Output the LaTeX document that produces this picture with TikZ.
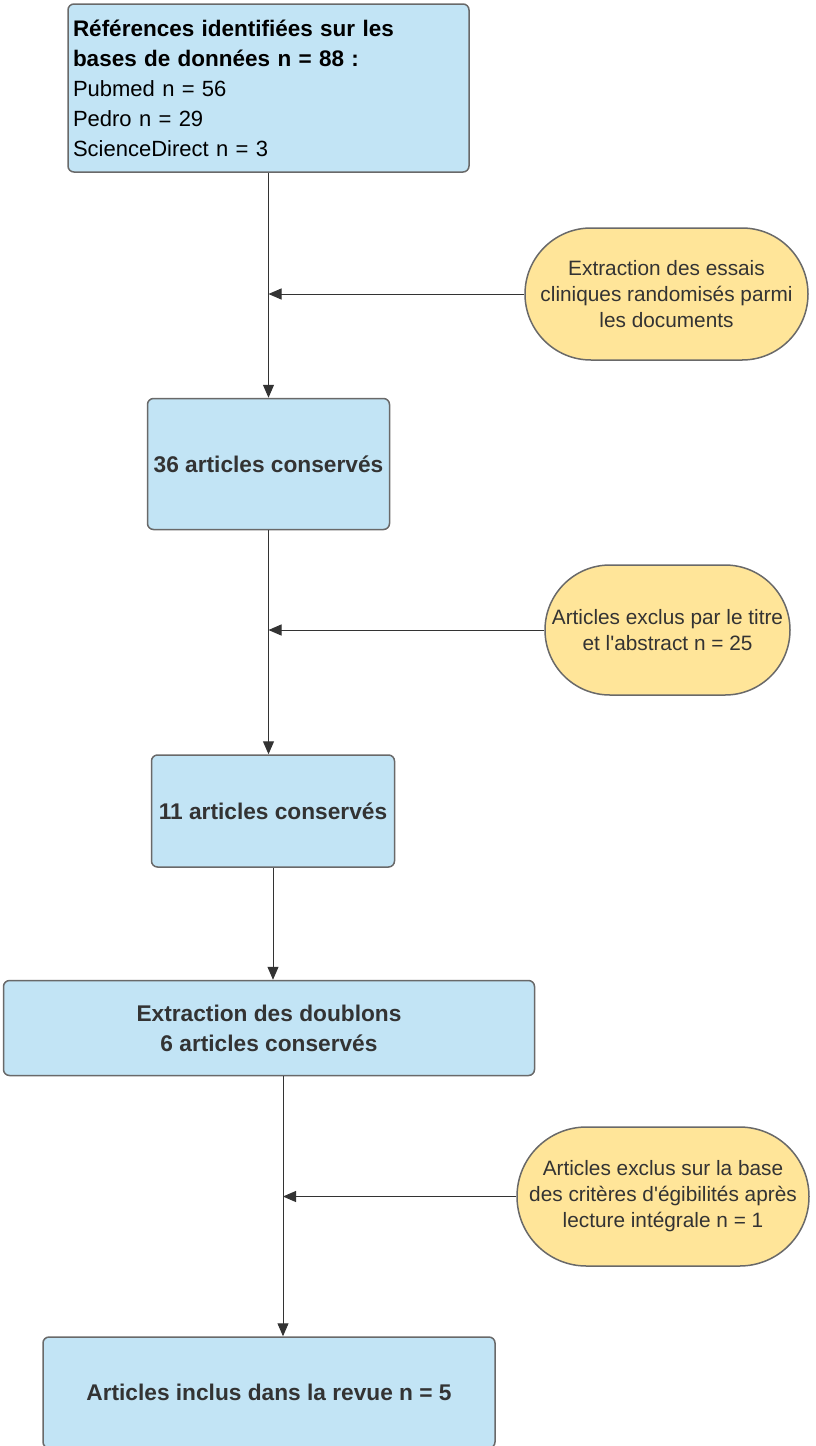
\documentclass[tikz,border=0pt]{standalone}
\usepackage{fontspec}
\setmainfont{Liberation Sans}[Ligatures=TeXOff]
\usepackage{tikz}
\usetikzlibrary{arrows.meta,positioning,shapes.misc,calc}
\definecolor{myblue}{RGB}{194,228,245}
\definecolor{myyellow}{RGB}{255,229,153}
\definecolor{myborder}{RGB}{105,105,105}
\definecolor{mytext}{RGB}{51,51,51}
\tikzset{
    line/.style   = {-{Triangle[length=13pt,width=11pt]}, line width=1pt, draw=mytext},
    block/.style  = {draw=myborder, line width=1.5pt, fill=myblue,
            rounded corners=6pt, align=center, text=mytext,
            font=\fontsize{22.7}{30}\selectfont\bfseries},
    exclusion/.style = {rounded rectangle, draw=myborder, line width=1.5pt,
            fill=myyellow, align=center, text=mytext, inner sep=0pt,
            font=\fontsize{20.8}{26}\selectfont},
}

\begin{document}
\begin{tikzpicture}[x=1pt,y=-1pt]
            \useasboundingbox (0,0) rectangle (816,1446);
            \begin{scope}
                % Nodes
                \node[block, text=black, align=left, text width=391pt, inner sep=5pt,
                    minimum width=401pt, minimum height=168pt,
                    font=\fontsize{22}{30}\selectfont] (refs) at (268.5,88)
                    {{\fontsize{22.5}{30}\selectfont\bfseries Références identifiées sur les\\bases de données n = 88 :}\\Pubmed n = 56\\Pedro n = 29\\ScienceDirect n = 3};
                \node[block, minimum width=242pt, minimum height=131pt, below=225pt of refs] (kept36) {36 articles conservés};
                \node[block, minimum width=243pt, minimum height=112pt, below=224pt of kept36, xshift=4.5pt] (kept11) {11 articles conservés};
                \node[block, minimum width=531pt, minimum height=95pt, below=112pt of kept11, xshift=-4pt] (nodup) {Extraction des doublons\\6 articles conservés};
                \node[block, minimum width=452pt, minimum height=111pt, below=260pt of nodup] (included) {Articles inclus dans la revue n = 5};
                \node[exclusion, minimum width=283pt, minimum height=132pt] (rct) at (666.5,294)
                    {Extraction des essais\\cliniques randomisés parmi\\les documents};
                \node[exclusion, minimum width=245pt, minimum height=130pt] (title) at (667.5,630)
                    {Articles exclus par le titre\\et l'abstract n = 25};
                \node[exclusion, minimum width=292pt, minimum height=139pt] (fulltext) at (663,1196.5)
                    {Articles exclus sur la base\\des critères d'égibilités après\\lecture intégrale n = 1};
                \coordinate (split) at ($(nodup.south)+(14,0)$); % line below doublons is off centre
                % Arrows
                \draw[line] (refs.south) -- (refs.south |- kept36.north);
                \draw[line] (kept36.south) -- (kept36.south |- kept11.north);
                \draw[line] (kept11.south) -- (kept11.south |- nodup.north);
                \draw[line] (split) -- (split |- included.north);
                \draw[line] (rct.west) -- (rct.west -| refs.south);
                \draw[line] (title.west) -- (title.west -| kept36.south);
                \draw[line] (fulltext.west) -- (fulltext.west -| split);
            \end{scope}
        \end{tikzpicture}
\end{document}
